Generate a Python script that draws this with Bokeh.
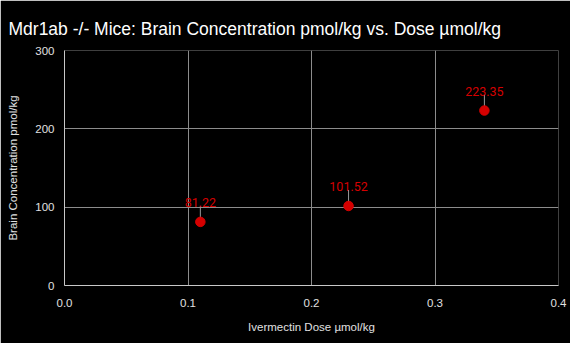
from bokeh.plotting import figure
from bokeh.models import ColumnDataSource, Range1d, SingleIntervalTicker, NumeralTickFormatter
from bokeh.core.properties import value
from bokeh.embed import file_html
from bokeh.resources import INLINE

# Data
dose = [0.11, 0.23, 0.34]
brain_conc = [81.22, 101.52, 223.35]
labels = ["81.22", "101.52", "223.35"]

title_text = "Mdr1ab -/- Mice: Brain Concentration pmol/kg vs. Dose \u00b5mol/kg"
x_title = "Ivermectin Dose \u00b5mol/kg"
y_title = "Brain Concentration pmol/kg"

src = ColumnDataSource(dict(x=dose, y=brain_conc, label=labels))

p = figure(width=570, height=343, output_backend="svg", toolbar_location=None,
           x_range=Range1d(0, 0.4), y_range=Range1d(0, 300),
           min_border_left=64, min_border_right=12, min_border_top=50, min_border_bottom=58,
           background_fill_color="#000000", border_fill_color="#000000", outline_line_color=None)

p.title.text = title_text
p.title.text_color = "#ffffff"
p.title.text_font = "Liberation Sans"
p.title.text_font_size = "17.5px"
p.title.text_font_style = "normal"
p.title.align = "left"
p.title.offset = -56
p.title.standoff = 23

for ax in (p.xaxis[0], p.yaxis[0]):
    ax.axis_line_color = "#c8c8c8"
    ax.major_tick_line_color = None
    ax.minor_tick_line_color = None
    ax.major_tick_out = 0
    ax.major_tick_in = 0
    ax.major_label_text_color = "#e0e0e0"
    ax.major_label_text_font = "Liberation Sans"
    ax.major_label_text_font_size = "11.5px"
    ax.axis_label_text_color = "#e0e0e0"
    ax.axis_label_text_font = "Liberation Sans"
    ax.axis_label_text_font_size = "11.5px"
    ax.axis_label_text_font_style = "normal"

p.xaxis.axis_label = x_title
p.yaxis.axis_label = y_title
p.xaxis.ticker = SingleIntervalTicker(interval=0.1)
p.yaxis.ticker = SingleIntervalTicker(interval=100)
p.xaxis.formatter = NumeralTickFormatter(format="0.0")
p.yaxis.formatter = NumeralTickFormatter(format="0")
p.xaxis.major_label_standoff = 9
p.xaxis.axis_label_standoff = 11
p.yaxis.major_label_standoff = 6
p.yaxis.axis_label_standoff = 13

p.grid.grid_line_color = "#8c8c8c"
p.xgrid.ticker = SingleIntervalTicker(interval=0.1)
p.ygrid.ticker = SingleIntervalTicker(interval=100)

# leader lines
p.ray(x="x", y="y", source=src, length=16, length_units="screen", angle=90, angle_units="deg",
      line_color="#999999", line_width=1)
# points
p.scatter(x="x", y="y", source=src, size=9.5, fill_color="#d50000", line_color="#d50000")
# labels
p.text(x="x", y="y", text="label", source=src, y_offset=-19, text_align="center",
       text_baseline="alphabetic", text_color="#d50000", text_font=value("Roboto"),
       text_font_size="12.5px", text_font_style="normal")

html = file_html(p, INLINE)
html = html.replace("<body>", '<body style="background:#000000;">', 1)
open("out.html", "w").write(html)
